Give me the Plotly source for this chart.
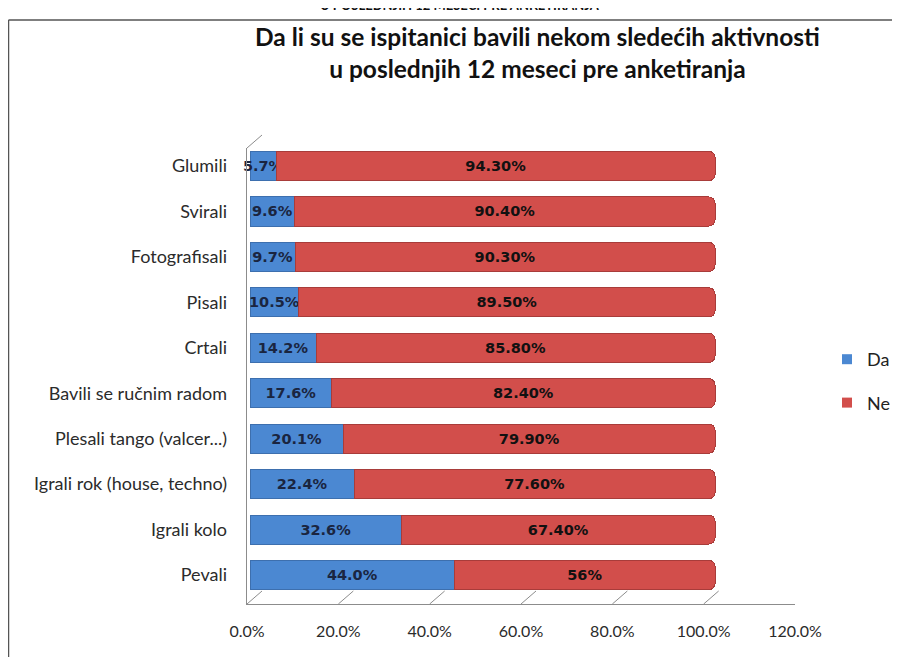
import plotly.graph_objects as go

# --- data ---
activities = ["Glumili", "Svirali", "Fotografisali", "Pisali", "Crtali",
              "Bavili se ručnim radom", "Plesali tango (valcer...)",
              "Igrali rok (house, techno)", "Igrali kolo", "Pevali"]
da = [5.7, 9.6, 9.7, 10.5, 14.2, 17.6, 20.1, 22.4, 32.6, 44.0]
ne = [94.3, 90.4, 90.3, 89.5, 85.8, 82.4, 79.9, 77.6, 67.4, 56]
da_labels = ["5.7%", "9.6%", "9.7%", "10.5%", "14.2%", "17.6%", "20.1%", "22.4%", "32.6%", "44.0%"]
ne_labels = ["94.30%", "90.40%", "90.30%", "89.50%", "85.80%", "82.40%", "79.90%", "77.60%", "67.40%", "56%"]
x_ticks = [0, 20, 40, 60, 80, 100, 120]
x_tick_labels = ["0.0%", "20.0%", "40.0%", "60.0%", "80.0%", "100.0%", "120.0%"]

# the page body adds an 8px margin, so the figure is 8px smaller than the window
OFF = 8
W, H = 900 - OFF, 657 - OFF
BLUE = "#4b88d2"
RED = "#d24e4b"
GRID = "#8c8c8c"
FONT = "Lato"


def fx(px):
    return (px - OFF) / W


def fy(py):
    return 1 - (py - OFF) / H


fig = go.Figure()
fig.add_trace(go.Bar(y=activities, x=da, name="Da", orientation="h",
                     xaxis="x2", yaxis="y2", showlegend=False,
                     marker=dict(color=BLUE, line=dict(color="#3d6fae", width=1)),
                     text=da_labels, textposition="inside", insidetextanchor="middle",
                     textangle=0, constraintext="none", cliponaxis=False,
                     textfont=dict(family="DejaVu Sans", size=14.5, color="#1a2540", weight="bold")))
fig.add_trace(go.Bar(y=activities, x=ne, name="Ne", orientation="h",
                     xaxis="x2", yaxis="y2", showlegend=False,
                     marker=dict(color=RED, line=dict(color="#a83c3a", width=1)),
                     text=ne_labels, textposition="inside", insidetextanchor="middle",
                     textangle=0, constraintext="none",
                     textfont=dict(family="DejaVu Sans", size=14.5, color="#111111", weight="bold")))
# square legend keys
for name, col in [("Da", BLUE), ("Ne", RED)]:
    fig.add_trace(go.Scatter(x=[None], y=[None], name=name, mode="markers",
                             xaxis="x2", yaxis="y2", legendgroup=name,
                             marker=dict(symbol="square", size=10, color=col)))

# 3D floor: diagonal ticks between the front edge and the back wall
shapes = []
for v in x_ticks:
    shapes.append(dict(type="line", xref="x3", yref="paper", xsizemode="pixel", xanchor=v,
                       x0=0, x1=15, y0=fy(604), y1=fy(591),
                       line=dict(color=GRID, width=1)))
shapes.append(dict(type="line", xref="x3", yref="paper", xsizemode="pixel", xanchor=0,
                   x0=0, x1=15, y0=fy(148), y1=fy(135), line=dict(color=GRID, width=1)))
# chart frame (top and left edges)
shapes.append(dict(type="line", xref="paper", yref="paper", x0=fx(8.5), x1=1,
                   y0=fy(20), y1=fy(20), line=dict(color="#555555", width=1.5)))
shapes.append(dict(type="line", xref="paper", yref="paper", x0=fx(8.5), x1=fx(8.5),
                   y0=0, y1=fy(20), line=dict(color="#555555", width=1.5)))
fig.update_layout(shapes=shapes)

fig.update_layout(
    width=W, height=H,
    margin=dict(l=0, r=0, t=0, b=0, autoexpand=False),
    paper_bgcolor="white", plot_bgcolor="rgba(0,0,0,0)",
    barmode="stack", bargap=0.36, barcornerradius=6,
    font=dict(family=FONT, color="#333333"),
    # back wall (grid)
    xaxis=dict(domain=[fx(262), fx(809)], range=[0, 120], dtick=20, anchor="y",
               showgrid=True, gridcolor=GRID, gridwidth=1, zeroline=False,
               showticklabels=False, showline=True, linecolor=GRID, linewidth=1),
    yaxis=dict(domain=[fy(591), fy(135)], range=[0, 1], anchor="x",
               showgrid=False, zeroline=False, showticklabels=False, showline=False),
    # bars
    xaxis2=dict(domain=[fx(250), fx(808)], range=[0, 120], anchor="y2",
                showgrid=False, zeroline=False, showticklabels=False, showline=False),
    yaxis2=dict(domain=[fy(597.7), fy(143.3)], anchor="x2", autorange="reversed",
                showgrid=False, zeroline=False, showline=False, ticklabelstandoff=22,
                automargin=False,
                tickfont=dict(family=FONT, size=18, color="#2b2b2b")),
    # front floor edge with tick labels
    xaxis3=dict(domain=[fx(247), fx(795)], range=[0, 120], tickvals=x_ticks,
                ticktext=x_tick_labels, anchor="y3", showgrid=False, zeroline=False,
                showline=True, linecolor=GRID, linewidth=1, ticklabelstandoff=13,
                automargin=False,
                tickfont=dict(family=FONT, size=16, color="#2b2b2b")),
    yaxis3=dict(domain=[fy(604), fy(148)], range=[0, 1], anchor="x3",
                showgrid=False, zeroline=False, showticklabels=False,
                showline=True, linecolor=GRID, linewidth=1),
    legend=dict(x=fx(827), y=fy(381), xanchor="left", yanchor="middle",
                traceorder="grouped", tracegroupgap=17, itemwidth=30,
                font=dict(family=FONT, size=18, color="#222222"),
                bgcolor="rgba(0,0,0,0)"),
    annotations=[
        dict(text="<b>Da li su se ispitanici bavili nekom sledećih aktivnosti<br>"
                  "u poslednjih 12 meseci pre anketiranja</b>",
             xref="paper", yref="paper", x=fx(537), y=fy(52), xanchor="center",
             yanchor="middle", showarrow=False,
             font=dict(family=FONT, size=24.5, color="#111111")),
        dict(text="<b>U POSLEDNJIH 12 MESECI PRE ANKETIRANJA</b>",
             xref="paper", yref="paper", x=fx(460), y=fy(5), xanchor="center",
             yanchor="middle", showarrow=False,
             font=dict(family=FONT, size=13, color="#111111")),
    ],
)

fig.write_html("out.html")
